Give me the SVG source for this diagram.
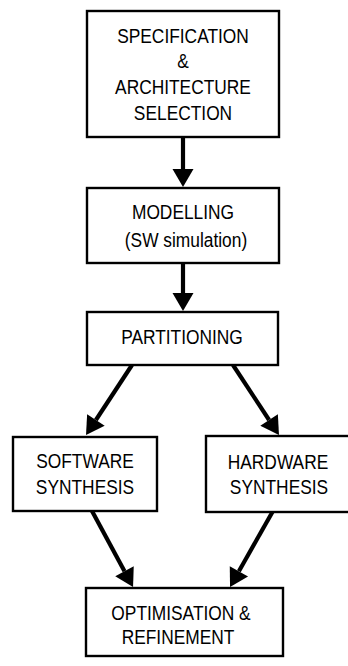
<svg xmlns="http://www.w3.org/2000/svg" width="348" height="666" viewBox="0 0 348 666">
  <style>
    .box { fill: #ffffff; stroke: #000000; stroke-width: 2.4; }
    .lbl { font-family: "Liberation Sans", Arial, Helvetica, sans-serif; font-size: 19.5px; fill: #000000; text-anchor: middle; }
    .flow { fill: none; stroke: #000000; stroke-width: 4.2; marker-end: url(#head); }
  </style>
  <defs>
    <!-- solid triangular arrowhead; line ends at its base -->
    <marker id="head" markerUnits="userSpaceOnUse" markerWidth="20" markerHeight="22" refX="0" refY="10.5" orient="auto" overflow="visible">
      <path d="M0,0 L18,10.5 L0,21 Z" fill="#000000"/>
    </marker>
  </defs>
  <rect width="348" height="666" fill="#ffffff"/>

  <g id="connectors">
    <line class="flow" x1="183" y1="137" x2="183" y2="169"/>
    <line class="flow" x1="183" y1="263" x2="183" y2="293"/>
    <line class="flow" x1="132" y1="365" x2="95.9" y2="420"/>
    <line class="flow" x1="233" y1="365" x2="269.1" y2="420"/>
    <line class="flow" x1="92" y1="511" x2="124.5" y2="571.2"/>
    <line class="flow" x1="273" y1="511" x2="238.9" y2="571.3"/>
  </g>

  <!-- labels use a narrow, tall face: horizontal scale on each line -->
  <g id="spec">
    <rect class="box" x="87" y="11" width="192" height="126"/>
    <text class="lbl" transform="translate(183,43) scale(0.89,1)">SPECIFICATION</text>
    <text class="lbl" transform="translate(183,68) scale(0.89,1)">&amp;</text>
    <text class="lbl" transform="translate(183,94) scale(0.89,1)">ARCHITECTURE</text>
    <text class="lbl" transform="translate(183,120) scale(0.89,1)">SELECTION</text>
  </g>

  <g id="modelling">
    <rect class="box" x="87" y="188" width="192" height="75"/>
    <text class="lbl" transform="translate(183,219) scale(0.89,1)">MODELLING</text>
    <text class="lbl" transform="translate(186,247) scale(0.89,1)">(SW simulation)</text>
  </g>

  <g id="partitioning">
    <rect class="box" x="87" y="312" width="191" height="53"/>
    <text class="lbl" transform="translate(182,344) scale(0.89,1)">PARTITIONING</text>
  </g>

  <g id="software">
    <rect class="box" x="13" y="437" width="144" height="74"/>
    <text class="lbl" transform="translate(85,468) scale(0.89,1)">SOFTWARE</text>
    <text class="lbl" transform="translate(85,494) scale(0.89,1)">SYNTHESIS</text>
  </g>

  <g id="hardware">
    <rect class="box" x="206" y="436" width="146" height="76"/>
    <text class="lbl" transform="translate(278,469) scale(0.89,1)">HARDWARE</text>
    <text class="lbl" transform="translate(279,494) scale(0.89,1)">SYNTHESIS</text>
  </g>

  <g id="optimisation">
    <rect class="box" x="86" y="588" width="197" height="68"/>
    <text class="lbl" transform="translate(181,620) scale(0.89,1)">OPTIMISATION &amp;</text>
    <text class="lbl" transform="translate(178,644) scale(0.89,1)">REFINEMENT</text>
  </g>
</svg>
